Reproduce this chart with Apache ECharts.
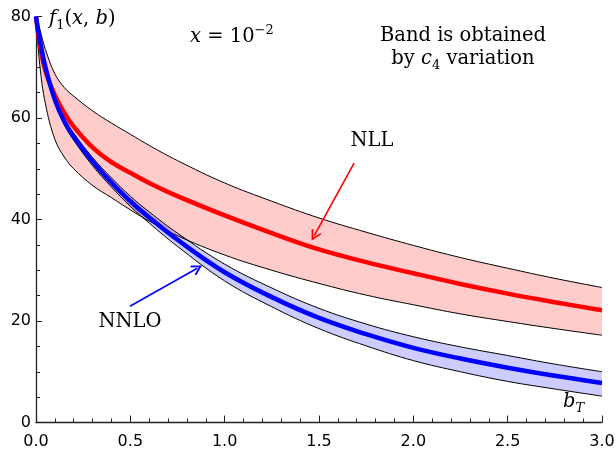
<!DOCTYPE html>
<html>
<head>
<meta charset="utf-8">
<script src="https://cdn.jsdelivr.net/npm/echarts@6/dist/echarts.min.js"></script>
<style>
html, body { margin: 0; padding: 0; background: #fff; }
#chart { width: 616px; height: 453px; }
</style>
</head>
<body>
<div id="chart"></div>
<script>
// b_T sample points
var bT = [0, 0.02, 0.05, 0.1, 0.15, 0.2, 0.3, 0.4, 0.5, 0.6, 0.75, 1.0, 1.25, 1.5, 1.75, 2.0, 2.25, 2.5, 2.75, 3.0];

// NLL: central curve and c4 band
var nllCentral = [80, 74.5, 69.3, 64.5, 61.0, 58.3, 54.2, 51.3, 49.2, 47.2, 44.6, 40.8, 37.3, 34.1, 31.6, 29.4, 27.3, 25.4, 23.7, 22.1];
var nllUpper   = [80, 77.5, 73.5, 68.7, 66.0, 64.3, 61.4, 59.0, 56.8, 54.6, 51.6, 47.2, 43.6, 40.3, 37.5, 34.9, 32.5, 30.4, 28.4, 26.6];
var nllLower   = [80, 70.5, 62.8, 55.8, 52.3, 50.0, 46.7, 44.3, 41.9, 39.7, 36.8, 33.0, 30.0, 27.4, 25.1, 23.2, 21.4, 19.9, 18.5, 17.2];

// NNLO: central curve and c4 band
var nnloCentral = [80, 75.5, 70.0, 63.6, 59.3, 56.3, 51.4, 47.3, 43.6, 40.4, 36.0, 29.6, 24.7, 20.6, 17.4, 14.7, 12.6, 10.8, 9.2, 7.8];
var nnloUpper   = [80, 75.8, 70.4, 64.1, 59.9, 57.0, 52.2, 48.2, 44.6, 41.5, 37.3, 31.2, 26.5, 22.5, 19.4, 16.9, 14.9, 13.2, 11.5, 10.0];
var nnloLower   = [80, 75.2, 69.6, 63.1, 58.7, 55.6, 50.6, 46.4, 42.6, 39.3, 34.7, 27.9, 22.8, 18.5, 15.1, 12.2, 10.0, 8.1, 6.6, 5.2];

// arrow annotations (data coords)
var nllArrow  = [[1.686, 51.1], [1.475, 36.8]];
var nnloArrow = [[0.498, 22.9], [0.855, 30.4]];

var SMOOTH = 0.4;
var serif = 'DejaVu Serif';
var sans = 'DejaVu Sans';

function pairs(ys) {
    return bT.map(function (x, i) { return [x, ys[i]]; });
}

// filled band between two curves, drawn with the axis scales
function band(lower, upper, color, z) {
    return {
        type: 'custom',
        silent: true,
        clip: true,
        z: z,
        data: [[0, 0]],
        renderItem: function (params, api) {
            var n = bT.length;
            var pts = [];
            for (var i = 0; i < n; i++) pts.push(api.coord([bT[i], upper[i]]));
            // doubled corner points keep the smoothing from rounding the ends
            pts.push(api.coord([bT[n - 1], upper[n - 1]]));
            pts.push(api.coord([bT[n - 1], lower[n - 1]]));
            for (var j = n - 1; j >= 0; j--) pts.push(api.coord([bT[j], lower[j]]));
            return {
                type: 'polygon',
                shape: { points: pts, smooth: SMOOTH },
                style: { fill: color }
            };
        }
    };
}

function edge(ys, z) {
    return {
        type: 'line',
        data: pairs(ys),
        smooth: SMOOTH,
        showSymbol: false,
        silent: true,
        z: z,
        lineStyle: { color: '#000', width: 1 }
    };
}

function arrow(pts, color) {
    return {
        silent: true,
        symbol: ['none', 'path://M5,0 L10,8.5 L8.7,9.5 L5,3.2 L1.3,9.5 L0,8.5 Z'],
        symbolSize: [11, 11],
        label: { show: false },
        lineStyle: { color: color, width: 1.6, type: 'solid' },
        data: [[{ coord: pts[0] }, { coord: pts[1] }]]
    };
}

var mathRich = {
    n: { fontFamily: serif, fontSize: 19.5, lineHeight: 26, fill: '#000' },
    i: { fontFamily: serif, fontSize: 19.5, lineHeight: 26, fontStyle: 'italic', fill: '#000' },
    s: { fontFamily: serif, fontSize: 13, lineHeight: 17, verticalAlign: 'bottom', fill: '#000' },
    si: { fontFamily: serif, fontSize: 13, lineHeight: 17, fontStyle: 'italic', verticalAlign: 'bottom', fill: '#000' },
    p: { fontFamily: serif, fontSize: 13, lineHeight: 15, verticalAlign: 'top', fill: '#000' }
};

var chart = echarts.init(document.getElementById('chart'));

var option = {
    animation: false,
    backgroundColor: '#fff',
    grid: { left: 36, right: 14, top: 16.5, bottom: 30.5, containLabel: false, outerBoundsMode: 'none' },
    xAxis: {
        type: 'value',
        min: 0, max: 3, interval: 0.5,
        axisLine: { lineStyle: { color: '#222', width: 1.3 } },
        axisTick: { inside: true, length: 7, lineStyle: { color: '#222', width: 1 } },
        minorTick: { show: true, splitNumber: 5, length: 4, lineStyle: { color: '#222', width: 1 } },
        splitLine: { show: false },
        axisLabel: {
            margin: 11, color: '#000', fontFamily: sans, fontSize: 16,
            formatter: function (v) { return v.toFixed(1); }
        }
    },
    yAxis: {
        type: 'value',
        min: 0, max: 80, interval: 20,
        axisLine: { show: true, lineStyle: { color: '#222', width: 1.3 } },
        axisTick: { show: true, inside: true, length: 6, lineStyle: { color: '#222', width: 1 } },
        minorTick: { show: true, splitNumber: 4, length: 4, lineStyle: { color: '#222', width: 1 } },
        splitLine: { show: false },
        axisLabel: { margin: 5, color: '#000', fontFamily: sans, fontSize: 16 }
    },
    series: [
        band(nllLower, nllUpper, 'rgba(255,0,0,0.2)', 1),
        band(nnloLower, nnloUpper, 'rgba(0,0,255,0.2)', 2),
        edge(nllUpper, 3),
        edge(nllLower, 3),
        edge(nnloUpper, 3),
        edge(nnloLower, 3),
        {
            name: 'NLL',
            type: 'line',
            data: pairs(nllCentral),
            smooth: SMOOTH,
            showSymbol: false,
            z: 4,
            lineStyle: { color: '#ff0000', width: 4.5 },
            markLine: arrow(nllArrow, '#ff0000')
        },
        {
            name: 'NNLO',
            type: 'line',
            data: pairs(nnloCentral),
            smooth: SMOOTH,
            showSymbol: false,
            z: 5,
            lineStyle: { color: '#0000ff', width: 4.5 },
            markLine: arrow(nnloArrow, '#0000ff')
        }
    ],
    graphic: [
        {
            type: 'text', x: 49, y: 19,
            style: { text: '{i|f}{s|1}{n|(}{i|x}{n|, }{i|b}{n|)}', align: 'left', verticalAlign: 'middle', rich: mathRich }
        },
        {
            type: 'text', x: 190, y: 37,
            style: { text: '{i|x}{n| = 10}{p|−2}', align: 'left', verticalAlign: 'middle', rich: mathRich }
        },
        {
            type: 'text', x: 463, y: 36,
            style: { text: 'Band is obtained', fontFamily: serif, fontSize: 19.5, fill: '#000', align: 'center', verticalAlign: 'middle' }
        },
        {
            type: 'text', x: 463, y: 59,
            style: { text: '{n|by }{i|c}{s|4}{n| variation}', align: 'center', verticalAlign: 'middle', rich: mathRich }
        },
        {
            type: 'text', x: 372, y: 141,
            style: { text: 'NLL', fontFamily: serif, fontSize: 19.5, fill: '#000', align: 'center', verticalAlign: 'middle' }
        },
        {
            type: 'text', x: 130, y: 322,
            style: { text: 'NNLO', fontFamily: serif, fontSize: 19.5, fill: '#000', align: 'center', verticalAlign: 'middle' }
        },
        {
            type: 'text', x: 563, y: 402,
            style: { text: '{i|b}{si|T}', align: 'left', verticalAlign: 'middle', rich: mathRich }
        }
    ]
};

chart.setOption(option);
</script>
</body>
</html>
